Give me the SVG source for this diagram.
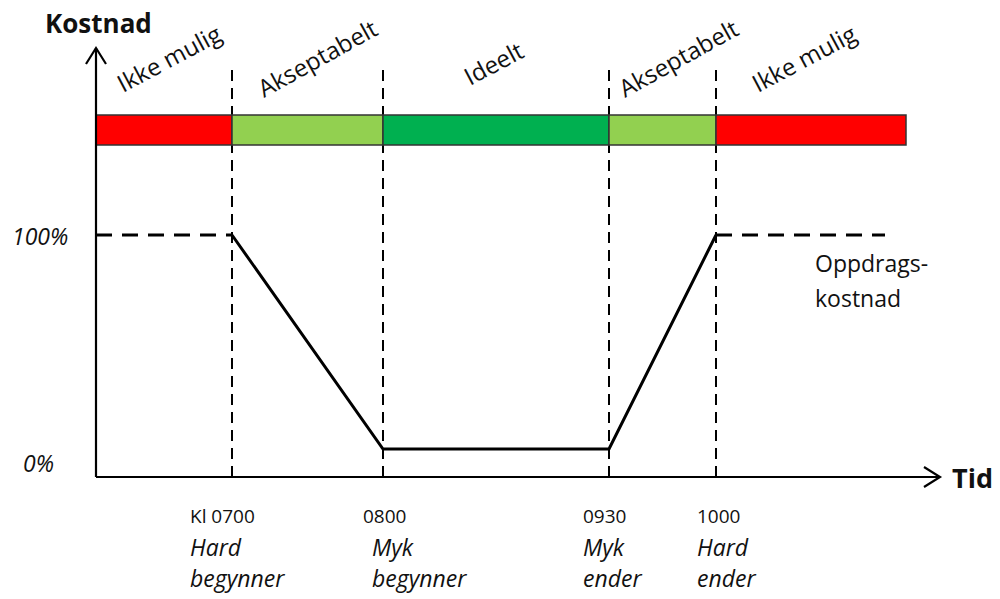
<svg xmlns="http://www.w3.org/2000/svg" width="1000" height="599" viewBox="0 0 1000 599">
<style>
.t{font-family:"Open Sans","Liberation Sans",sans-serif;fill:#111}
.b{font-weight:bold}
.i{font-style:italic}
.axis{stroke:#000;stroke-width:2.2;fill:none}
.vd{stroke:#000;stroke-width:2;stroke-dasharray:11 7;fill:none}
.hd{stroke:#000;stroke-width:3;stroke-dasharray:16 10;fill:none}
.seg{stroke:#333;stroke-width:1.5}
</style>
<rect width="1000" height="599" fill="#fff"/>
<g id="guides">
<line class="vd" x1="232" y1="70" x2="232" y2="477"/>
<line class="vd" x1="383" y1="70" x2="383" y2="477"/>
<line class="vd" x1="609" y1="70" x2="609" y2="477"/>
<line class="vd" x1="716" y1="70" x2="716" y2="477"/>
</g>
<g id="bar">
<rect class="seg" x="96" y="115" width="136" height="30" fill="#ff0000"/>
<rect class="seg" x="232" y="115" width="151" height="30" fill="#92d050"/>
<rect class="seg" x="383" y="115" width="226" height="30" fill="#00b050"/>
<rect class="seg" x="609" y="115" width="107" height="30" fill="#92d050"/>
<rect class="seg" x="716" y="115" width="190" height="30" fill="#ff0000"/>
</g>
<g id="connectors">
<polyline class="axis" points="96,477 96,48"/>
<polyline class="axis" points="86,64 96,48 106,64"/>
<polyline class="axis" points="96,477 940,477"/>
<polyline class="axis" points="924,467 940,477 924,487"/>
<line class="hd" x1="96" y1="235" x2="232" y2="235"/>
<line class="hd" x1="716" y1="235" x2="885" y2="235"/>
<polyline points="232,235 383,449 609,449 716,235" fill="none" stroke="#000" stroke-width="3"/>
</g>
<g id="labels">
<text class="t b" x="45" y="33" font-size="26">Kostnad</text>
<text class="t b" x="952" y="488" font-size="27">Tid</text>
<text class="t i" x="12" y="245" font-size="23">100%</text>
<text class="t i" x="23" y="472" font-size="23">0%</text>
<text class="t" x="815" y="272" font-size="23">Oppdrags-</text>
<text class="t" x="815" y="307" font-size="23">kostnad</text>
<text class="t" font-size="24" transform="translate(123,93) rotate(-28)">Ikke mulig</text>
<text class="t" font-size="24" transform="translate(264,98) rotate(-29)">Akseptabelt</text>
<text class="t" font-size="24" transform="translate(470,86) rotate(-28)">Ideelt</text>
<text class="t" font-size="24" transform="translate(625,98) rotate(-29)">Akseptabelt</text>
<text class="t" font-size="24" transform="translate(758,93) rotate(-28)">Ikke mulig</text>
<text class="t" x="190" y="523" font-size="19">Kl 0700</text>
<text class="t i" x="190" y="556" font-size="23">Hard</text>
<text class="t i" x="190" y="587" font-size="23">begynner</text>
<text class="t" x="363" y="523" font-size="19">0800</text>
<text class="t i" x="372" y="556" font-size="23">Myk</text>
<text class="t i" x="372" y="587" font-size="23">begynner</text>
<text class="t" x="583" y="523" font-size="19">0930</text>
<text class="t i" x="583" y="556" font-size="23">Myk</text>
<text class="t i" x="583" y="587" font-size="23">ender</text>
<text class="t" x="697" y="523" font-size="19">1000</text>
<text class="t i" x="697" y="556" font-size="23">Hard</text>
<text class="t i" x="697" y="587" font-size="23">ender</text>
</g>
</svg>
